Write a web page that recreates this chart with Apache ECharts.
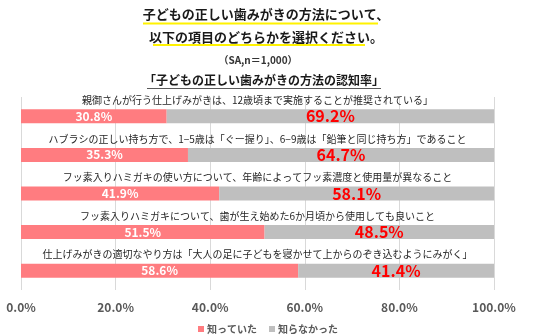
<!DOCTYPE html>
<html><head><meta charset="utf-8">
<script src="https://cdn.jsdelivr.net/npm/echarts@6/dist/echarts.min.js"></script>
<style>html,body{margin:0;padding:0;background:#fff}#c{width:536px;height:335px}</style>
</head><body><div id="c"></div>
<script>
const categories = [
  '親御さんが行う仕上げみがきは、12歳頃まで実施することが推奨されている」',
  'ハブラシの正しい持ち方で、1−5歳は「ぐー握り」、6−9歳は「鉛筆と同じ持ち方」であること',
  'フッ素入りハミガキの使い方について、年齢によってフッ素濃度と使用量が異なること',
  'フッ素入りハミガキについて、歯が生え始めた6か月頃から使用しても良いこと',
  '仕上げみがきの適切なやり方は「大人の足に子どもを寝かせて上からのぞき込むようにみがく」'
];
const knew = [30.8, 35.3, 41.9, 51.5, 58.6];
const didNotKnow = [69.2, 64.7, 58.1, 48.5, 41.4];
const seriesNames = ['知っていた', '知らなかった'];
const xTicks = [0, 20, 40, 60, 80, 100];
const titleLines = ['子どもの正しい歯みがきの方法について、', '以下の項目のどちらかを選択ください。', '（SA,n＝1,000）', '「子どもの正しい歯みがきの方法の認知率」'];

const font = '"Noto Sans CJK JP", "Noto Sans", sans-serif';
function titleText(txt, x, y, size, color) {
  return { type: 'text', x: x, y: y, silent: true,
    style: { text: txt, align: 'center', verticalAlign: 'middle', fontSize: size, fontWeight: 'bold', fontFamily: font, fill: color } };
}
const chart = echarts.init(document.getElementById('c'));
chart.setOption({
  animation: false,
  textStyle: { fontFamily: font },
  graphic: [
    titleText(titleLines[0], 266, 14, 13, '#1a1a1a'),
    titleText(titleLines[1], 266, 37, 13, '#1a1a1a'),
    titleText(titleLines[2], 258, 60, 10, '#333333'),
    titleText(titleLines[3], 264, 80, 12, '#1a1a1a'),
    { type: 'line', silent: true, shape: { x1: 143, y1: 23.5, x2: 378, y2: 23.5 }, style: { stroke: '#FFF200', lineWidth: 2 } },
    { type: 'line', silent: true, shape: { x1: 153, y1: 45, x2: 365, y2: 45 }, style: { stroke: '#FFF200', lineWidth: 2 } },
    { type: 'line', silent: true, shape: { x1: 147, y1: 88.5, x2: 381, y2: 88.5 }, style: { stroke: '#595959', lineWidth: 1 } }
  ],
  legend: {
    data: seriesNames, top: 319, left: 'center', itemWidth: 6, itemHeight: 6, itemGap: 12,
    icon: 'rect',
    textStyle: { fontSize: 10, fontWeight: 'bold', color: '#595959', fontFamily: font, padding: [0, 0, 0, -2] }
  },
  grid: { left: 21, right: 42, top: 97, bottom: 45 },
  xAxis: {
    type: 'value', min: 0, max: 100, interval: 20,
    axisLine: { show: false }, axisTick: { show: false },
    splitLine: { lineStyle: { color: '#D9D9D9' } },
    axisLabel: { formatter: v => v.toFixed(1) + '%', fontSize: 12, fontWeight: 'bold', color: '#595959', margin: 11, fontFamily: font }
  },
  yAxis: {
    type: 'category', data: categories, inverse: true,
    axisLine: { show: false }, axisTick: { show: false }, axisLabel: { show: false }, splitLine: { show: false }
  },
  series: [
    {
      name: seriesNames[0], type: 'bar', stack: 'a', data: knew, barWidth: 14,
      itemStyle: { color: '#FF7C80' },
      label: { show: true, position: 'inside', formatter: p => p.value.toFixed(1) + '%', color: '#fff', fontSize: 12, fontWeight: 'bold', fontFamily: font }
    },
    {
      name: seriesNames[1], type: 'bar', stack: 'a', data: didNotKnow, barWidth: 14,
      itemStyle: { color: '#BFBFBF' },
      label: { show: true, position: 'inside', formatter: p => p.value.toFixed(1) + '%', color: '#FF0000', fontSize: 16, fontWeight: 'bold', fontFamily: font }
    },
    {
      name: 'cat', type: 'bar', data: categories.map(() => 100), barWidth: 14, barGap: '-100%', silent: true,
      itemStyle: { color: 'rgba(0,0,0,0)' },
      label: { show: true, position: 'top', distance: 4, formatter: p => categories[p.dataIndex], color: '#262626', fontSize: 10, fontFamily: font }
    }
  ]
});
</script></body></html>
